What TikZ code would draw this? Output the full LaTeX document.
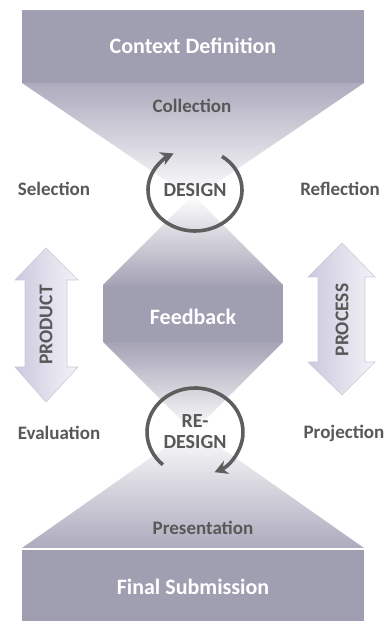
\documentclass[tikz,border=0pt]{standalone}
\usepackage{fontspec}
\setmainfont{Carlito}
\usetikzlibrary{arrows.meta}
\definecolor{boxc}{HTML}{A09EB1}
\definecolor{fadec}{HTML}{ADABBD}
\definecolor{darktxt}{HTML}{585858}
\definecolor{arcc}{HTML}{5E5E5E}
\definecolor{arrl}{HTML}{CBC9DD}
\definecolor{arrr}{HTML}{F3F3F8}
\definecolor{arrd}{HTML}{CACAD6}
\tikzset{
  x=1pt, y=1pt,
  wtxt/.style={text=white, font=\bfseries\fontsize{22}{24}\selectfont, inner sep=0pt},
  dtxt/.style={text=darktxt, font=\bfseries\fontsize{19}{21}\selectfont, inner sep=0pt},
  ctxt/.style={text=darktxt, font=\bfseries\fontsize{20}{21}\selectfont, inner sep=0pt, align=center},
  rtxt/.style={text=darktxt, font=\bfseries\fontsize{19.5}{21}\selectfont, inner sep=0pt, rotate=90},
  cyc/.style={draw=arcc, line width=3.6pt, -{Stealth[length=13pt,width=14pt]}},
  blockarrow/.style={draw=arrd, line width=0.6pt, left color=arrl, right color=arrr},
}
\begin{document}
\begin{tikzpicture}
\useasboundingbox (0,0) rectangle (387,621);
% top block and funnel
\fill[boxc] (22,538) rectangle (364,611);
\shade[top color=fadec, bottom color=white] (22,538) -- (364,538) -- (193,422) -- cycle;
% octagon
\shade[top color=white, bottom color=boxc!95!white] (193,426) -- (283,336) -- (103,336) -- cycle;
\fill[boxc] (103,279) rectangle (283,336.3);
\shade[top color=boxc!95!white, bottom color=white] (103,279) -- (283,279) -- (193,189) -- cycle;
% bottom funnel and block
\shade[top color=white, bottom color=fadec] (193,193) -- (364,73) -- (22,73) -- cycle;
\fill[boxc] (22,0) rectangle (364,71);
% side block arrows
\path[blockarrow] (46,373) -- (78,341) -- (67,341) -- (67,254) -- (78,254) -- (46,219)
  -- (15,254) -- (25,254) -- (25,341) -- (15,341) -- cycle;
\path[blockarrow] (342,378) -- (375,344) -- (365,344) -- (365,259) -- (375,259) -- (342,226)
  -- (308,259) -- (318,259) -- (318,344) -- (308,344) -- cycle;
% texts
\node[wtxt] (ctx) at (193,575) {Context Definition};
\node[dtxt] (coll) at (192,515) {Collection};
\node[dtxt] (sel) at (54,432) {Selection};
\node[dtxt] (refl) at (340,432) {Reflection};
\node[ctxt] (design) at (195,431) {DESIGN};
\node[wtxt] (fb) at (193,304) {Feedback};
\node[rtxt] (prod) at (46,296) {PRODUCT};
\node[rtxt] (proc) at (342,301) {PROCESS};
\node[dtxt] (eval) at (59,188) {Evaluation};
\node[dtxt] (proj) at (344,188) {Projection};
\node[ctxt] (redesign) at (195,189) {RE-\\DESIGN};
\node[dtxt] (pres) at (203,93) {Presentation};
\node[wtxt] (final) at (193,34) {Final Submission};
% cycle arrows
\draw[cyc] ([shift={(55:47 and 41)}]design.center) arc[start angle=55, end angle=-243, x radius=47, y radius=41];
\draw[cyc] ([shift={(228:48 and 44)}]redesign.center) arc[start angle=228, end angle=-66, x radius=48, y radius=44];
\end{tikzpicture}
\end{document}
